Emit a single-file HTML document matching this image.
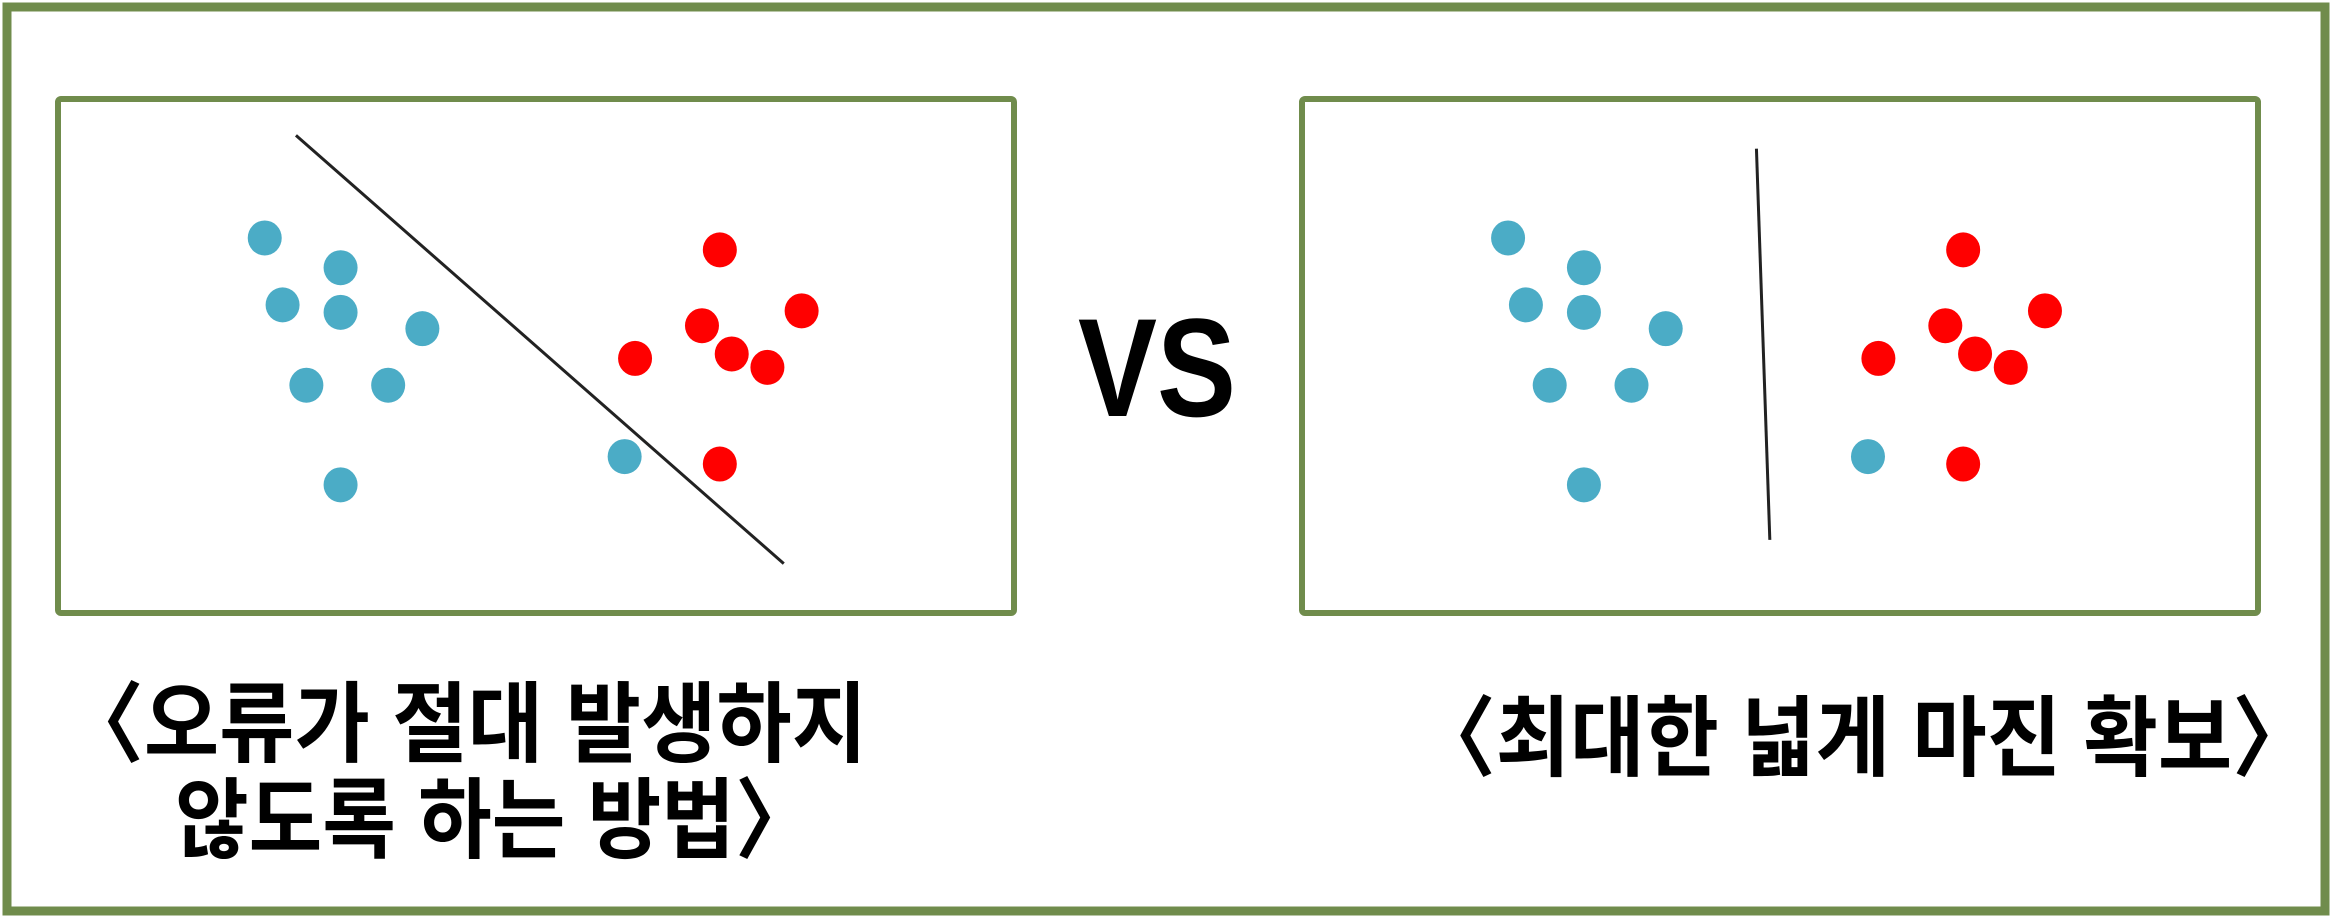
<!DOCTYPE html>
<html><head><meta charset="utf-8"><style>
html,body{margin:0;padding:0;background:#fff;}
svg{display:block;}
</style></head><body>
<svg width="2332" height="918" viewBox="0 0 2332 918" xmlns="http://www.w3.org/2000/svg">
<rect x="7" y="7" width="2318" height="904" fill="#fff" stroke="#708c4c" stroke-width="9"/>
<rect x="58" y="99" width="956" height="514" rx="3" fill="#fff" stroke="#708c4c" stroke-width="6"/>
<rect x="1302" y="99" width="956" height="514" rx="3" fill="#fff" stroke="#708c4c" stroke-width="6"/>
<g id="marks"></g>
<text x="1078" y="416" font-family="Liberation Sans, sans-serif" font-size="140" font-weight="bold" textLength="158" lengthAdjust="spacingAndGlyphs">VS</text>
<g font-family="'Liberation Sans','Noto Sans CJK KR',sans-serif" font-weight="bold" font-size="88" fill="#000">
<text x="62" y="755" textLength="805" lengthAdjust="spacingAndGlyphs">〈오류가 절대 발생하지</text>
<text x="175" y="851" textLength="640" lengthAdjust="spacingAndGlyphs">않도록 하는 방법〉</text>
<text x="1415" y="769" textLength="898" lengthAdjust="spacingAndGlyphs">〈최대한 넓게 마진 확보〉</text>
</g>
</svg>
<script>
// data in panel units (relative to each panel's top-left)
const blueX = [140, 191, 152, 191, 246, 168, 223, 191, 382];
const blueY = [94, 114, 139, 144, 155, 193, 193, 260, 241];
const redX = [446, 501, 434, 389, 454, 478, 446];
const redY = [102, 143, 153, 175, 172, 181, 246];
const leftLine = [[161, 25], [489, 313]];
const rightLine = [[307, 34], [316, 297]];
const panelOrigins = [[38, 66], [874, 66]];
const S = 2332 / 1568;
function sx(v, p) { return (panelOrigins[p][0] + v) * S; }
function sy(v, p) { return (panelOrigins[p][1] + v) * S; }
const NS = 'http://www.w3.org/2000/svg';
const g = document.getElementById('marks');
function dot(x, y, p, color, name) {
  const e = document.createElementNS(NS, 'ellipse');
  e.setAttribute('cx', sx(x, p)); e.setAttribute('cy', sy(y, p));
  e.setAttribute('rx', 17); e.setAttribute('ry', 17.5);
  e.setAttribute('fill', color);
  
  
  g.appendChild(e);
}
function line(l, p, name) {
  const e = document.createElementNS(NS, 'line');
  e.setAttribute('x1', sx(l[0][0], p)); e.setAttribute('y1', sy(l[0][1], p));
  e.setAttribute('x2', sx(l[1][0], p)); e.setAttribute('y2', sy(l[1][1], p));
  e.setAttribute('stroke', '#222'); e.setAttribute('stroke-width', 3);
  
  
  g.appendChild(e);
}
[0, 1].forEach(p => {
  blueX.forEach((x, i) => dot(x, blueY[i], p, '#4bacc6', 'blue-point'));
  redX.forEach((x, i) => dot(x, redY[i], p, '#ff0000', 'red-point'));
});
line(leftLine, 0, 'error-boundary-line');
line(rightLine, 1, 'max-margin-boundary-line');
</script>
</body></html>
